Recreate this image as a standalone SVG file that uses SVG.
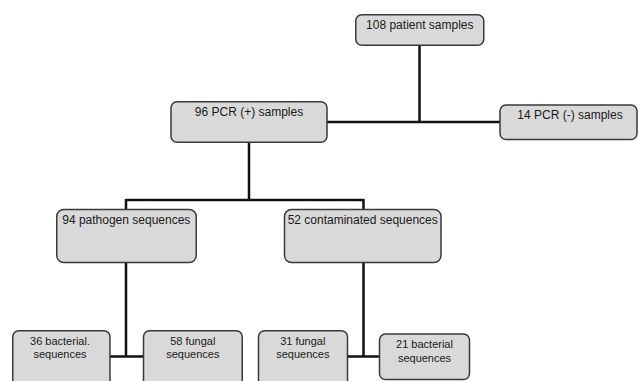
<svg xmlns="http://www.w3.org/2000/svg" width="638" height="381" viewBox="0 0 638 381">
<style>
.box{fill:#d9d9d9;stroke:#3a3a3a;stroke-width:1.5}
.t{font-family:"Liberation Sans",Arial,sans-serif;font-size:12px;fill:#1a1a1a;text-anchor:middle}
.s{font-family:"Liberation Sans",Arial,sans-serif;font-size:11px;fill:#1a1a1a;text-anchor:middle}
.c{fill:none;stroke:#111;stroke-width:2.5}
</style>
<rect width="638" height="381" fill="#fff"/>
<g id="connectors">
<path class="c" d="M419.5 45V122M327 122H500"/>
<path class="c" d="M249 142.5V200M126 200H363.5M126 199V209.5M363.5 199V209.5"/>
<path class="c" d="M126 262.5V356.5M110 356.5H143.5"/>
<path class="c" d="M363.5 262.5V356.5M347.5 356.5H379.5"/>
</g>
<g id="n108"><rect class="box" x="355.75" y="14.75" width="128" height="30.5" rx="6"/><text class="t" x="419.8" y="29">108 patient samples</text></g>
<g id="n96"><rect class="box" x="171" y="101.75" width="156" height="40.5" rx="6"/><text class="t" x="249" y="115.8">96 PCR (+) samples</text></g>
<g id="n14"><rect class="box" x="500" y="105" width="137" height="34.5" rx="6"/><text class="t" x="570" y="119">14 PCR (-) samples</text></g>
<g id="n94"><rect class="box" x="56.75" y="209.5" width="139.5" height="53" rx="7"/><text class="t" x="126.3" y="224">94 pathogen sequences</text></g>
<g id="n52"><rect class="box" x="284.5" y="209.5" width="156.5" height="53" rx="7"/><text class="t" x="362.7" y="224">52 contaminated sequences</text></g>
<g id="n36"><rect class="box" x="12.75" y="330.75" width="97.25" height="56" rx="6"/><text class="s" x="60" y="345">36 bacterial.</text><text class="s" x="60" y="358.3">sequences</text></g>
<g id="n58"><rect class="box" x="143.5" y="330.75" width="98.75" height="56" rx="6"/><text class="s" x="192.8" y="345">58 fungal</text><text class="s" x="192.8" y="358.3">sequences</text></g>
<g id="n31"><rect class="box" x="258.5" y="330.75" width="89" height="56" rx="6"/><text class="s" x="302.8" y="345">31 fungal</text><text class="s" x="302.8" y="358.3">sequences</text></g>
<g id="n21"><rect class="box" x="379.5" y="334" width="90" height="45.5" rx="6"/><text class="s" x="424.5" y="348.3">21 bacterial</text><text class="s" x="424.5" y="361.7">sequences</text></g>
</svg>
